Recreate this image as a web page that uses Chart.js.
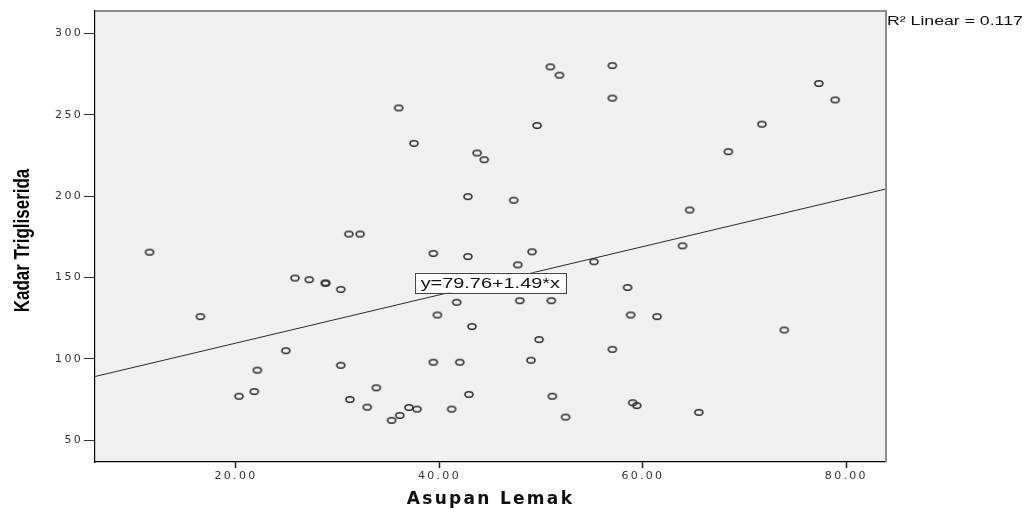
<!DOCTYPE html>
<html>
<head>
<meta charset="utf-8">
<script src="https://cdn.jsdelivr.net/npm/chart.js@4.4.1/dist/chart.umd.min.js"></script>
<style>
  html, body { margin: 0; padding: 0; background: #fff; }
  #wrap { width: 1033px; height: 512px; }
</style>
</head>
<body>
<div id="wrap"><canvas id="chart" width="1033" height="512"></canvas></div>
<script>
// values
const asupanLemak = [
  50.9, 51.8, 57.0, 57.0, 36.0, 49.6, 37.5, 43.7, 44.4, 42.8, 47.3, 31.1, 32.2,
  77.3, 78.9, 71.7, 68.4, 64.6, 63.9, 11.5, 25.8, 27.2, 28.8, 28.8, 30.3, 16.5,
  24.9, 22.1, 30.3, 20.3, 21.8, 31.2, 39.4, 42.8, 49.1, 47.7, 55.2, 58.5, 41.7,
  47.9, 51.0, 39.8, 58.8, 43.2, 49.8, 57.0, 39.4, 42.0, 49.0, 33.8, 32.9, 42.9,
  51.1, 37.0, 37.8, 41.2, 36.1, 35.3, 52.4, 59.0, 59.4, 61.4, 73.9, 65.5
];
const kadarTrigliserida = [
  279.4, 274.3, 280.2, 260.2, 254.2, 243.4, 232.4, 226.5, 222.4, 199.7, 197.5, 176.7, 176.7,
  269.2, 259.1, 244.2, 227.3, 191.5, 169.5, 165.6, 149.7, 148.7, 146.6, 146.6, 142.7, 126.0,
  105.1, 93.1, 96.1, 77.1, 80.0, 75.1, 164.8, 162.9, 165.8, 157.8, 159.7, 143.9, 134.8,
  135.8, 135.8, 127.0, 127.0, 119.9, 111.9, 105.9, 98.0, 98.0, 99.2, 82.3, 70.4, 78.2,
  77.1, 70.2, 69.2, 69.2, 65.3, 62.3, 64.3, 73.1, 71.4, 126.0, 117.8, 67.2
];
const xTicks = [20, 40, 60, 80];
const yTicks = [50, 100, 150, 200, 250, 300];
// fit line end points (read at the plot edges)
const fitX = [6.14, 83.9];
const fitY = [89.2, 204.4];
const fitLabel = "y=79.76+1.49*x";
const r2Label = "R\u00B2 Linear = 0.117";

const points = asupanLemak.map((x, i) => ({ x: x, y: kadarTrigliserida[i] }));
const fitPoints = fitX.map((x, i) => ({ x: x, y: fitY[i] }));

// hollow, slightly flattened circle like the SPSS marker
const dot = document.createElement("canvas");
dot.width = 12;
dot.height = 9;
const dctx = dot.getContext("2d");
dctx.strokeStyle = "#2e2e2e";
dctx.lineWidth = 1.6;
dctx.beginPath();
dctx.ellipse(6, 4.5, 4.0, 2.8, 0, 0, Math.PI * 2);
dctx.stroke();

const spssFrame = {
  id: "spssFrame",
  beforeDraw(chart) {
    const { ctx, chartArea: a } = chart;
    ctx.save();
    ctx.fillStyle = "#f0f0f0";
    ctx.fillRect(a.left, a.top, a.right - a.left, a.bottom - a.top);
    ctx.restore();
    // the original picture is stretched sideways, spacing mimics that
    ctx.letterSpacing = "2.3px";
  },
  afterDraw(chart) {
    const { ctx, chartArea: a, scales } = chart;
    ctx.save();
    ctx.letterSpacing = "0px";

    ctx.strokeStyle = "#8c8c8c";
    ctx.lineWidth = 2;
    ctx.beginPath();
    ctx.moveTo(a.left, a.top);
    ctx.lineTo(a.right, a.top);
    ctx.lineTo(a.right, a.bottom);
    ctx.stroke();

    // y axis title
    ctx.save();
    ctx.translate(23, (a.top + a.bottom) / 2 + 4);
    ctx.rotate(-Math.PI / 2);
    ctx.scale(1, 1.27);
    ctx.font = "bold 17px 'Liberation Sans', Arial, sans-serif";
    ctx.fillStyle = "#000";
    ctx.textAlign = "center";
    ctx.textBaseline = "middle";
    ctx.fillText("Kadar Trigliserida", 0, 0);
    ctx.restore();

    // equation box
    const cx = scales.x.getPixelForValue(45);
    const cy = scales.y.getPixelForValue(146.8);
    ctx.font = "14px 'Liberation Sans', Arial, sans-serif";
    const sx = 1.42;
    const w = ctx.measureText(fitLabel).width * sx;
    ctx.fillStyle = "#fff";
    ctx.fillRect(cx - w / 2 - 6, cy - 10, w + 12, 20);
    ctx.strokeStyle = "#444";
    ctx.lineWidth = 1;
    ctx.strokeRect(Math.round(cx - w / 2 - 6) + 0.5, Math.round(cy - 10) + 0.5, Math.round(w + 12), 20);
    ctx.save();
    ctx.translate(cx - w / 2, cy + 5);
    ctx.scale(sx, 1);
    ctx.fillStyle = "#111";
    ctx.fillText(fitLabel, 0, 0);
    ctx.restore();

    // R squared note
    ctx.save();
    ctx.translate(a.right + 1, 25);
    ctx.scale(1.36, 1);
    ctx.font = "13px 'Liberation Sans', Arial, sans-serif";
    ctx.fillStyle = "#111";
    ctx.fillText(r2Label, 0, 0);
    ctx.restore();

    ctx.restore();
  }
};

new Chart(document.getElementById("chart"), {
  type: "scatter",
  data: {
    datasets: [
      {
        label: "Kadar Trigliserida",
        data: points,
        pointStyle: dot,
        pointRadius: 4,
        pointHoverRadius: 4,
        borderColor: "#333",
        backgroundColor: "transparent"
      },
      {
        type: "line",
        label: "Linear",
        data: fitPoints,
        borderColor: "#2a2a2a",
        borderWidth: 1,
        pointRadius: 0,
        fill: false
      }
    ]
  },
  options: {
    responsive: false,
    animation: false,
    layout: { padding: { top: 11, right: 147, left: 0, bottom: 0 } },
    plugins: {
      legend: { display: false },
      tooltip: { enabled: false }
    },
    scales: {
      x: {
        type: "linear",
        min: 6.14,
        max: 83.9,
        afterBuildTicks: (scale) => { scale.ticks = xTicks.map((v) => ({ value: v })); },
        afterFit: (scale) => { scale.height = 50; },
        grid: { drawOnChartArea: false, drawTicks: true, tickLength: 6, color: "#222", tickWidth: 1.5 },
        border: { display: true, color: "#000", width: 1.2 },
        ticks: {
          color: "#333",
          padding: 2,
          maxRotation: 0,
          font: { family: "'DejaVu Sans', sans-serif", size: 11 },
          callback: (v) => Number(v).toFixed(2)
        },
        title: {
          display: true,
          text: "Asupan Lemak",
          color: "#111",
          font: { family: "'DejaVu Sans', sans-serif", size: 17, weight: "bold" },
          padding: { top: 0, bottom: 2 }
        }
      },
      y: {
        type: "linear",
        min: 36.7,
        max: 313.7,
        afterBuildTicks: (scale) => { scale.ticks = yTicks.map((v) => ({ value: v })); },
        afterFit: (scale) => { scale.width = 95; },
        grid: { drawOnChartArea: false, drawTicks: true, tickLength: 11, color: "#333", tickWidth: 1 },
        border: { display: true, color: "#000", width: 1.2 },
        ticks: {
          color: "#333",
          padding: 1,
          font: { family: "'DejaVu Sans', sans-serif", size: 11 }
        }
      }
    }
  },
  plugins: [spssFrame]
});
</script>
</body>
</html>
